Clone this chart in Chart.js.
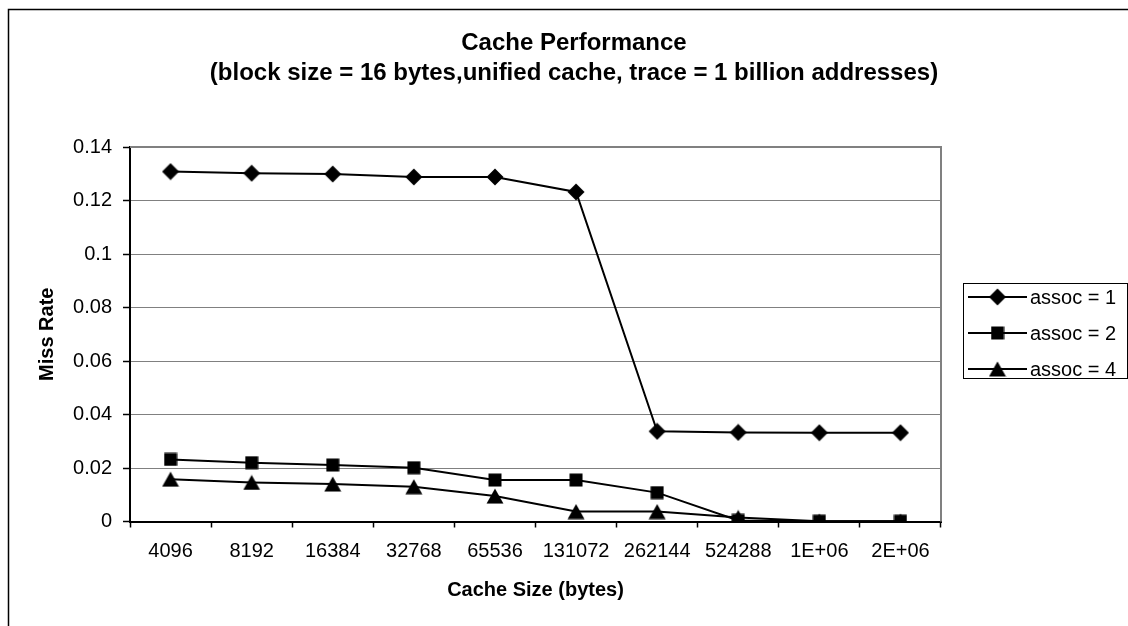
<!DOCTYPE html>
<html>
<head>
<meta charset="utf-8">
<script src="https://cdn.jsdelivr.net/npm/chart.js@4.4.1/dist/chart.umd.min.js"></script>
<style>
  html, body { margin: 0; padding: 0; background: #fff; }
  #wrap { width: 1128px; height: 626px; position: relative; }
</style>
</head>
<body>
<div id="wrap"><canvas id="chart" width="1128" height="626"></canvas></div>
<script>
// Cache sizes (bytes) along the x axis
const cacheSizes = ['4096', '8192', '16384', '32768', '65536', '131072', '262144', '524288', '1E+06', '2E+06'];

// Miss rate per associativity
const assoc1 = [0.1308, 0.1302, 0.1299, 0.1288, 0.1288, 0.1232, 0.0337, 0.0333, 0.0332, 0.0332];
const assoc2 = [0.0232, 0.0220, 0.0211, 0.0201, 0.0155, 0.0155, 0.0108, 0.0004, 0.0001, 0.0001];
const assoc4 = [0.0158, 0.0146, 0.0140, 0.0130, 0.0095, 0.0037, 0.0037, 0.0015, 0.0001, 0.0001];

const seriesNames = ['assoc = 1', 'assoc = 2', 'assoc = 4'];

// Y axis range
const yMin = 0;
const yMax = 0.14;
const yStep = 0.02;

const FONT = '"Liberation Sans", Arial, sans-serif';

// Marker images, centred on their bounding box
function makeMarker(kind) {
  const c = document.createElement('canvas');
  const ctx = c.getContext('2d');
  if (kind === 'diamond') {
    c.width = 18; c.height = 18;
    ctx.beginPath();
    ctx.moveTo(9, 0.5); ctx.lineTo(17.5, 9); ctx.lineTo(9, 17.5); ctx.lineTo(0.5, 9);
    ctx.closePath();
  } else if (kind === 'square') {
    c.width = 14; c.height = 14;
    ctx.beginPath();
    ctx.rect(0.5, 0.5, 13, 13);
  } else {
    c.width = 18; c.height = 16;
    ctx.beginPath();
    ctx.moveTo(9, 0.5); ctx.lineTo(17.5, 15.5); ctx.lineTo(0.5, 15.5);
    ctx.closePath();
  }
  ctx.fillStyle = '#000';
  ctx.fill();
  return c;
}
const markers = [makeMarker('diamond'), makeMarker('square'), makeMarker('triangle')];

// Outer frame and plot-area border
const framePlugin = {
  id: 'frame',
  beforeDraw(chart) {
    const ctx = chart.ctx;
    ctx.save();
    ctx.fillStyle = '#fff';
    ctx.fillRect(0, 0, chart.width, chart.height);
    ctx.strokeStyle = '#000';
    ctx.lineWidth = 1.5;
    ctx.strokeRect(8.5, 9.5, chart.width + 20, chart.height + 20);
    ctx.restore();
  },
  afterDatasetsDraw(chart) {
    const a = chart.chartArea;
    const ctx = chart.ctx;
    ctx.save();
    ctx.strokeStyle = '#808080';
    ctx.lineWidth = 2;
    ctx.beginPath();
    ctx.moveTo(a.left, a.top);
    ctx.lineTo(a.right, a.top);
    ctx.lineTo(a.right, a.bottom);
    ctx.stroke();
    ctx.restore();
  }
};

// Boxed legend with line + marker samples
const lineLegend = {
  id: 'lineLegend',
  afterDraw(chart) {
    const ctx = chart.ctx;
    const box = { x: 963.5, y: 283.5, w: 164, h: 95 };
    const rows = [297, 333, 369];
    ctx.save();
    ctx.strokeStyle = '#000';
    ctx.lineWidth = 1;
    ctx.strokeRect(box.x, box.y, box.w, box.h);
    chart.data.datasets.forEach((ds, i) => {
      const y = rows[i];
      ctx.strokeStyle = '#000';
      ctx.lineWidth = 2;
      ctx.beginPath();
      ctx.moveTo(968, y);
      ctx.lineTo(1027, y);
      ctx.stroke();
      const m = ds.pointStyle;
      ctx.drawImage(m, 997.5 - m.width / 2, y - m.height / 2);
      ctx.fillStyle = '#000';
      ctx.font = '20px ' + FONT;
      ctx.textAlign = 'left';
      ctx.textBaseline = 'middle';
      ctx.fillText(ds.label, 1030, y + 1);
    });
    ctx.restore();
  }
};

const seriesData = [assoc1, assoc2, assoc4];

new Chart(document.getElementById('chart'), {
  type: 'line',
  data: {
    labels: cacheSizes,
    datasets: seriesData.map((d, i) => ({
      label: seriesNames[i],
      data: d,
      borderColor: '#000',
      backgroundColor: '#000',
      borderWidth: 2,
      tension: 0,
      pointStyle: markers[i],
      pointRadius: 5,
      pointHoverRadius: 5,
      fill: false
    }))
  },
  options: {
    responsive: false,
    animation: false,
    layout: { padding: { left: 20, top: 0, right: 0, bottom: 0 } },
    plugins: {
      legend: { display: false },
      tooltip: { enabled: false },
      title: {
        display: true,
        text: ['Cache Performance', '(block size = 16 bytes,unified cache, trace = 1 billion addresses)'],
        color: '#000',
        font: { family: FONT, size: 24, weight: 'bold', lineHeight: 1.25 },
        padding: { top: 28, bottom: 59 }
      }
    },
    scales: {
      x: {
        type: 'category',
        offset: true,
        grid: { offset: true, drawOnChartArea: false, drawTicks: true, tickLength: 6, tickColor: '#000', tickWidth: 1.5 },
        border: { display: true, color: '#000', width: 2 },
        ticks: { color: '#000', font: { family: FONT, size: 20 }, padding: 12, maxRotation: 0, autoSkip: false },
        title: { display: true, text: 'Cache Size (bytes)', color: '#000', font: { family: FONT, size: 20, weight: 'bold' }, padding: { top: 10, bottom: 24 } },
        afterFit(s) { s.height = 104.5; }
      },
      y: {
        type: 'linear',
        min: yMin,
        max: yMax,
        grid: { color: '#808080', lineWidth: 1, tickLength: 7, tickColor: '#000', tickWidth: 1.5 },
        border: { display: true, color: '#000', width: 2 },
        ticks: {
          stepSize: yStep,
          color: '#000',
          font: { family: FONT, size: 20 },
          padding: 11,
          callback: v => String(Number(v.toFixed(2)))
        },
        title: { display: true, text: 'Miss Rate', color: '#000', font: { family: FONT, size: 20, weight: 'bold' }, padding: { top: 15, bottom: 10 } },
        afterFit(s) { s.width = 110; }
      },
      legendSpace: {
        type: 'linear',
        position: 'right',
        display: true,
        grid: { display: false, drawTicks: false },
        border: { display: false },
        ticks: { display: false },
        afterFit(s) { s.width = 187; }
      }
    }
  },
  plugins: [framePlugin, lineLegend]
});
</script>
</body>
</html>
